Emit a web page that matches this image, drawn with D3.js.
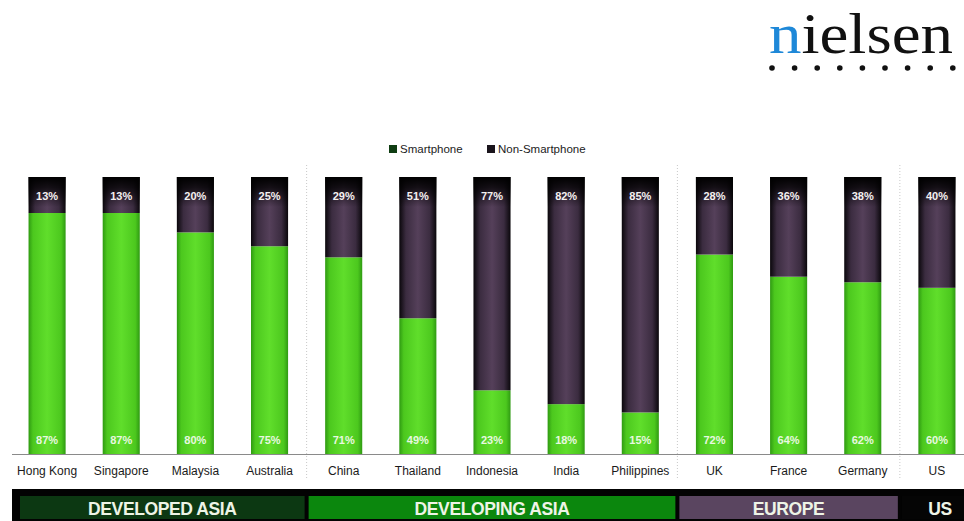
<!DOCTYPE html>
<html>
<head>
<meta charset="utf-8">
<script src="https://cdn.jsdelivr.net/npm/d3@7"></script>
<style>
  body { margin: 0; background: #fff; }
  svg { display: block; font-family: "Liberation Sans", "DejaVu Sans", sans-serif; }
</style>
</head>
<body>
<svg id="chart" width="964" height="521"></svg>
<script>
// chart data
var countries = ['Hong Kong', 'Singapore', 'Malaysia', 'Australia', 'China', 'Thailand', 'Indonesia',
                 'India', 'Philippines', 'UK', 'France', 'Germany', 'US']
var smartphone = [87, 87, 80, 75, 71, 49, 23, 18, 15, 72, 64, 62, 60]
var nonSmartphone = [13, 13, 20, 25, 29, 51, 77, 82, 85, 28, 36, 38, 40]
var seriesNames = ['Smartphone', 'Non-Smartphone']
var regions = ['DEVELOPED ASIA', 'DEVELOPING ASIA', 'EUROPE', 'US']
var regionSizes = [4, 5, 3, 1]

var svg = d3.select('#chart')
var width = 964, height = 521

var x = d3.scaleBand()
    .domain(countries)
    .range([10, 974])
    .paddingInner(0.5)
    .paddingOuter(0.25)

var y = d3.scaleLinear()
    .domain([0, 100])
    .range([454, 177])

var regionColor = d3.scaleOrdinal()
    .domain(regions)
    .range(['#0c3812', '#0b870d', '#5a4560', '#050505'])

// gradients for the bars
var defs = svg.append('defs')
function hGradient(id, stops) {
    var g = defs.append('linearGradient').attr('id', id)
        .attr('x1', 0).attr('x2', 1).attr('y1', 0).attr('y2', 0)
    stops.forEach(function(s) {
        g.append('stop').attr('offset', s[0]).attr('stop-color', s[1])
    })
}
hGradient('gSmart', [[0, '#2f9a12'], [0.12, '#4cc81e'], [0.5, '#60de2b'], [0.88, '#4cc81e'], [1, '#2f9a12']])
hGradient('gNon', [[0, '#0a070b'], [0.18, '#3b2c40'], [0.5, '#55405a'], [0.82, '#3b2c40'], [1, '#0a070b']])
var topFade = defs.append('linearGradient').attr('id', 'gTop')
    .attr('x1', 0).attr('x2', 0).attr('y1', 0).attr('y2', 1)
topFade.append('stop').attr('offset', 0).attr('stop-color', '#000').attr('stop-opacity', 1)
topFade.append('stop').attr('offset', 0.35).attr('stop-color', '#000').attr('stop-opacity', 0.75)
topFade.append('stop').attr('offset', 1).attr('stop-color', '#000').attr('stop-opacity', 0)

// nielsen logo
var logo = svg.append('g')
logo.append('text')
    .attr('x', 769).attr('y', 53)
    .attr('textLength', 184)
    .attr('lengthAdjust', 'spacingAndGlyphs')
    .style('font-family', '"Liberation Serif", "DejaVu Serif", serif')
    .style('font-size', '58px')
    .call(function(t) {
        t.append('tspan').attr('fill', '#1e88d8').text('n')
        t.append('tspan').attr('fill', '#111').text('ielsen')
    })
logo.selectAll('circle')
    .data(d3.range(9))
    .enter().append('circle')
    .attr('cx', function(d) { return 772 + d * 22.6 })
    .attr('cy', 68)
    .attr('r', 2.8)
    .attr('fill', '#111')

// legend
var legend = svg.append('g').attr('transform', 'translate(389, 150)')
var legendItems = legend.selectAll('g')
    .data(seriesNames)
    .enter().append('g')
    .attr('transform', function(d, i) { return 'translate(' + (i * 98) + ',0)' })
legendItems.append('rect')
    .attr('x', 0).attr('y', -5).attr('width', 8).attr('height', 8)
    .attr('fill', function(d, i) { return i === 0 ? '#0f3d12' : '#1a141c' })
legendItems.append('text')
    .attr('x', 11).attr('y', 3)
    .style('font-size', '11.5px')
    .attr('fill', '#222')
    .text(function(d) { return d })

// group separators (dotted)
var boundaries = []
regionSizes.reduce(function(acc, n) {
    acc += n
    if (acc < countries.length) boundaries.push(acc)
    return acc
}, 0)
svg.selectAll('.sep')
    .data(boundaries)
    .enter().append('line')
    .attr('class', 'sep')
    .attr('x1', function(i) { return (x(countries[i - 1]) + x.bandwidth() + x(countries[i])) / 2 })
    .attr('x2', function(i) { return (x(countries[i - 1]) + x.bandwidth() + x(countries[i])) / 2 })
    .attr('y1', 165).attr('y2', 480)
    .attr('stroke', '#c8c8c8')
    .attr('stroke-width', 1)
    .attr('stroke-dasharray', '1,2')

// bars
var bars = svg.selectAll('.bar')
    .data(countries)
    .enter().append('g')
    .attr('class', 'bar')
    .attr('transform', function(d) { return 'translate(' + x(d) + ',0)' })

bars.append('rect')
    .attr('y', function(d, i) { return y(smartphone[i]) })
    .attr('height', function(d, i) { return y(0) - y(smartphone[i]) })
    .attr('width', x.bandwidth())
    .attr('fill', 'url(#gSmart)')

bars.append('rect')
    .attr('y', function(d, i) { return y(smartphone[i] + nonSmartphone[i]) })
    .attr('height', function(d, i) { return y(smartphone[i]) - y(smartphone[i] + nonSmartphone[i]) })
    .attr('width', x.bandwidth())
    .attr('fill', 'url(#gNon)')

bars.append('rect')
    .attr('y', y(100))
    .attr('height', 30)
    .attr('width', x.bandwidth())
    .attr('fill', 'url(#gTop)')

bars.append('text')
    .attr('x', x.bandwidth() / 2)
    .attr('y', y(100) + 23)
    .attr('text-anchor', 'middle')
    .attr('fill', '#f4f0f0')
    .style('font-size', '11px')
    .style('font-weight', 'bold')
    .text(function(d, i) { return nonSmartphone[i] + '%' })

bars.append('text')
    .attr('x', x.bandwidth() / 2)
    .attr('y', y(0) - 10)
    .attr('text-anchor', 'middle')
    .attr('fill', '#e8f8e0')
    .style('font-size', '11px')
    .style('font-weight', 'bold')
    .text(function(d, i) { return smartphone[i] + '%' })

// x axis
var xAxis = svg.append('g')
    .attr('transform', 'translate(0,' + y(0) + ')')
    .call(d3.axisBottom(x).tickSize(0).tickPadding(12))
xAxis.select('.domain').attr('stroke', '#8a8a8a').attr('d', 'M12,0.5H964')
xAxis.selectAll('text')
    .style('font-family', '"Liberation Sans", sans-serif')
    .style('font-size', '12px')
    .attr('fill', '#1a1a1a')

// region band
var band = svg.append('g')
band.append('rect')
    .attr('x', 12).attr('y', 489)
    .attr('width', width - 12).attr('height', height - 489)
    .attr('fill', '#030303')

var regionData = []
regionSizes.reduce(function(start, n, i) {
    regionData.push({ name: regions[i], first: countries[start], last: countries[start + n - 1] })
    return start + n
}, 0)

function regionX0(d, i) {
    var left = x(d.first) - x.step() * x.paddingInner() / 2
    return i === 0 ? left + 10 : left + 2
}
function regionX1(d, i) {
    var right = x(d.last) + x.bandwidth() + x.step() * x.paddingInner() / 2
    return i === regions.length - 1 ? width : right - 2
}

band.selectAll('.region')
    .data(regionData)
    .enter().append('rect')
    .attr('class', 'region')
    .attr('x', regionX0)
    .attr('y', 496)
    .attr('width', function(d, i) { return regionX1(d, i) - regionX0(d, i) })
    .attr('height', 23)
    .attr('fill', function(d) { return regionColor(d.name) })

band.selectAll('.region-label')
    .data(regionData)
    .enter().append('text')
    .attr('class', 'region-label')
    .attr('x', function(d, i) { return i === regions.length - 1 ? 940 : (regionX0(d, i) + regionX1(d, i)) / 2 })
    .attr('y', 515)
    .attr('text-anchor', 'middle')
    .attr('fill', '#eef4e6')
    .style('font-size', '17.5px')
    .style('font-weight', 'bold')
    .style('letter-spacing', '-0.4px')
    .text(function(d) { return d.name })
</script>
</body>
</html>
